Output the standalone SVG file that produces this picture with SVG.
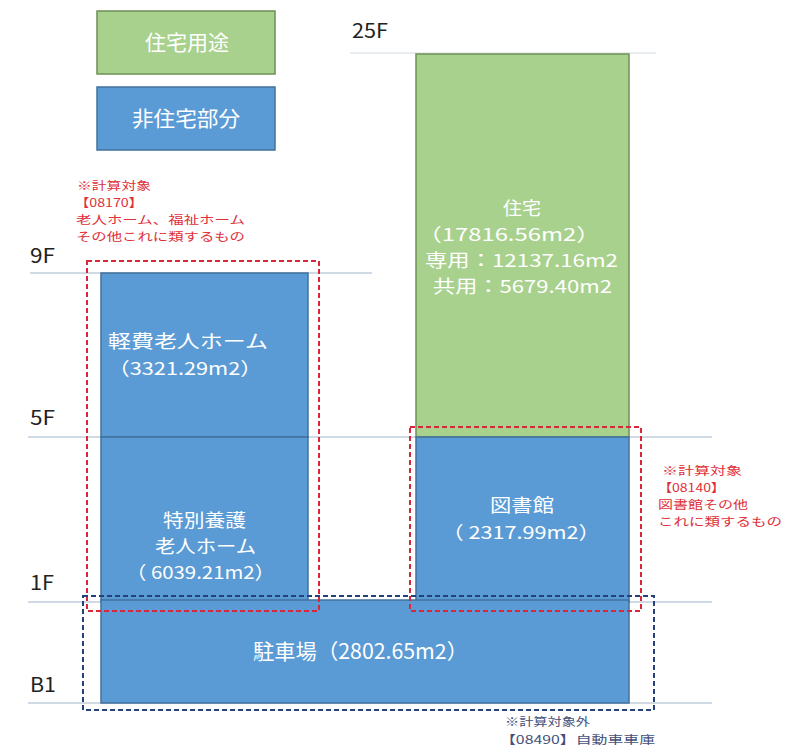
<svg xmlns="http://www.w3.org/2000/svg" width="788" height="756" viewBox="0 0 788 756">
<style>
.t{font-family:"Noto Sans CJK JP","Liberation Sans",sans-serif;}
.w{fill:#ffffff;font-size:17.9px;}
.wl{fill:#ffffff;font-size:21px;}
.fl{fill:#222222;font-size:20px;}
.ann{fill:#e0303a;font-size:11.7px;}
.annb{fill:#44507a;font-size:11.7px;}
.g{fill:#a9d18e;stroke:#6f8f55;stroke-width:1.5;}
.b{fill:#5b9bd5;stroke:#41719c;stroke-width:1.5;}
.floor{stroke:#9fb6cc;stroke-width:1.2;fill:none;}
.rd{fill:none;stroke:#d9263a;stroke-width:2;stroke-dasharray:5 3;}
.bd{fill:none;stroke:#25407a;stroke-width:2;stroke-dasharray:5 3;}
</style>
<rect width="788" height="756" fill="#ffffff"/>
<g id="floor-lines">
<line class="floor" x1="350" y1="53" x2="656" y2="53" style="stroke:#d6dbe0"/>
<line class="floor" x1="30" y1="273" x2="372" y2="273"/>
<line class="floor" x1="28" y1="437" x2="712" y2="437"/>
<line class="floor" x1="28" y1="602" x2="712" y2="602"/>
<line class="floor" x1="28" y1="703" x2="712" y2="703"/>
</g>
<g id="floor-labels" class="t">
<text class="fl" x="352" y="38" textLength="36" lengthAdjust="spacingAndGlyphs">25F</text>
<text class="fl" x="30" y="263" textLength="25" lengthAdjust="spacingAndGlyphs">9F</text>
<text class="fl" x="30" y="425" textLength="25" lengthAdjust="spacingAndGlyphs">5F</text>
<text class="fl" x="30" y="590" textLength="24" lengthAdjust="spacingAndGlyphs">1F</text>
<text class="fl" x="30" y="692" textLength="26" lengthAdjust="spacingAndGlyphs">B1</text>
</g>
<g id="legend-residential">
<rect class="g" x="97" y="11" width="178" height="63"/>
<text class="t wl" x="145" y="50" textLength="84" lengthAdjust="spacingAndGlyphs">住宅用途</text>
</g>
<g id="legend-nonresidential">
<rect class="b" x="97" y="87" width="178" height="63"/>
<text class="t wl" x="132" y="126" textLength="108" lengthAdjust="spacingAndGlyphs">非住宅部分</text>
</g>
<g id="housing">
<rect class="g" x="416" y="54" width="213" height="383"/>
<text class="t w" x="503" y="215" textLength="38" lengthAdjust="spacingAndGlyphs">住宅</text>
<text class="t w" x="418" y="241" textLength="182" lengthAdjust="spacingAndGlyphs">（17816.56m2）</text>
<text class="t w" x="425" y="267" textLength="193" lengthAdjust="spacingAndGlyphs">専用：12137.16m2</text>
<text class="t w" x="433" y="293" textLength="179" lengthAdjust="spacingAndGlyphs">共用：5679.40m2</text>
</g>
<g id="keihi-home">
<rect class="b" x="101" y="273" width="207" height="164"/>
<text class="t w" x="108" y="348" textLength="160" lengthAdjust="spacingAndGlyphs">軽費老人ホーム</text>
<text class="t w" x="108" y="375" textLength="154" lengthAdjust="spacingAndGlyphs">（3321.29m2）</text>
</g>
<g id="tokuyo-home">
<rect class="b" x="101" y="437" width="207" height="165"/>
<text class="t w" x="163" y="527" textLength="83" lengthAdjust="spacingAndGlyphs">特別養護</text>
<text class="t w" x="155" y="553" textLength="101" lengthAdjust="spacingAndGlyphs">老人ホーム</text>
<text class="t w" x="126" y="579" textLength="149" lengthAdjust="spacingAndGlyphs">（ 6039.21m2）</text>
</g>
<g id="library">
<rect class="b" x="416" y="437" width="213" height="165"/>
<text class="t w" x="490" y="512" textLength="64" lengthAdjust="spacingAndGlyphs">図書館</text>
<text class="t w" x="442" y="539" textLength="158" lengthAdjust="spacingAndGlyphs">（ 2317.99m2）</text>
</g>
<g id="parking">
<rect class="b" x="101" y="600" width="528" height="103"/>
<text class="t wl" x="253" y="659" textLength="215" lengthAdjust="spacingAndGlyphs">駐車場（2802.65m2）</text>
</g>
<g id="connectors">
<rect class="rd" x="87" y="261" width="232" height="350"/>
<rect class="rd" x="410" y="427" width="231" height="184"/>
<rect class="bd" x="83" y="596" width="571" height="114"/>
</g>
<g id="note-welfare" class="t ann">
<text x="77" y="190" textLength="74" lengthAdjust="spacingAndGlyphs">※計算対象</text>
<text x="75" y="207" textLength="68" lengthAdjust="spacingAndGlyphs">【08170】</text>
<text x="76" y="224" textLength="169" lengthAdjust="spacingAndGlyphs">老人ホーム、福祉ホーム</text>
<text x="76" y="241" textLength="169" lengthAdjust="spacingAndGlyphs">その他これに類するもの</text>
</g>
<g id="note-library" class="t ann">
<text x="662" y="475" textLength="80" lengthAdjust="spacingAndGlyphs">※計算対象</text>
<text x="658" y="492" textLength="67" lengthAdjust="spacingAndGlyphs">【08140】</text>
<text x="658" y="509" textLength="90" lengthAdjust="spacingAndGlyphs">図書館その他</text>
<text x="658" y="526" textLength="124" lengthAdjust="spacingAndGlyphs">これに類するもの</text>
</g>
<g id="note-parking" class="t annb">
<text x="505" y="726" textLength="85" lengthAdjust="spacingAndGlyphs">※計算対象外</text>
<text x="500" y="744" textLength="155" lengthAdjust="spacingAndGlyphs">【08490】自動車車庫</text>
</g>
</svg>
